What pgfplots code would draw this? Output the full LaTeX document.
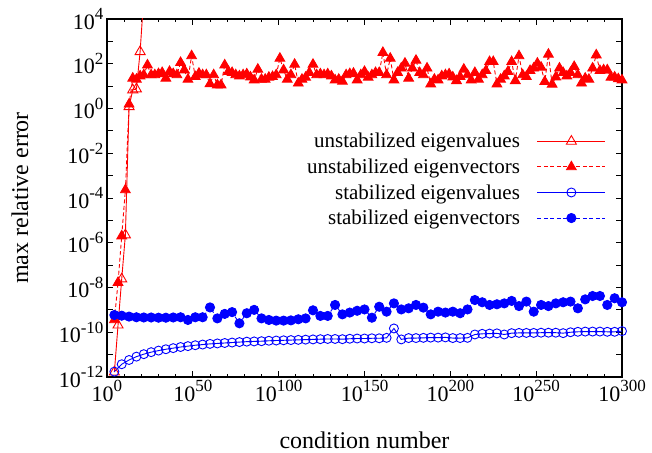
\documentclass[border=0pt]{standalone}
\usepackage{fontspec}
\setmainfont{Liberation Serif}
\usepackage{pgfplots}
\usepackage{pgfplotstable}
\pgfplotsset{compat=1.18}

% x = log10(condition number), y = log10(max relative error)
\pgfplotstableread{
x y
4.29 -11.78
6.43 -9.68
8.57 -7.62
10.71 -5.65
12.86 0.08
15.00 0.83
17.14 0.87
19.29 2.54
21.43 5.0
23.57 7.0
}\uval

\pgfplotstableread{
x y
4.29 -9.45
6.43 -7.78
8.57 -5.7
10.71 -3.64
12.86 0.19
15.00 1.35
17.14 1.3
19.29 1.45
21.43 1.5
23.57 1.94
25.71 1.5
27.86 1.5
30.00 1.55
32.14 1.6
34.29 1.35
36.43 1.65
38.57 1.55
40.71 1.5
42.86 2.05
45.00 1.72
47.14 1.3
49.29 2.35
51.43 1.42
53.57 1.57
55.71 1.5
57.86 1.5
60.00 1.1
62.14 1.5
64.29 1.05
66.43 1.05
68.57 1.94
70.71 1.65
72.86 1.6
75.00 1.5
77.14 1.45
79.29 1.5
81.43 1.54
83.57 1.4
85.71 1.27
87.86 1.75
90.00 1.3
92.14 1.3
94.29 1.39
96.43 1.42
98.57 1.5
100.71 2.24
102.86 1.72
105.00 1.3
107.14 1.5
109.29 1.97
111.43 1.13
113.57 1.3
115.71 1.39
117.86 1.6
120.00 1.97
122.14 1.5
124.29 1.54
126.43 1.5
128.57 1.54
130.71 1.45
132.86 1.27
135.00 1.3
137.14 1.21
139.29 1.5
141.43 1.55
143.57 1.57
145.71 1.27
147.86 1.5
150.00 1.65
152.14 1.39
154.29 1.5
156.43 1.6
158.57 1.6
160.71 2.5
162.86 1.5
165.00 2.24
167.14 1.27
169.29 1.6
171.43 1.8
173.57 2.02
175.71 1.35
177.86 1.8
180.00 2.15
182.14 1.6
184.29 1.5
186.43 1.8
188.57 1.09
190.71 1.3
192.86 1.27
195.00 1.45
197.14 1.5
199.29 1.54
201.43 1.4
203.57 1.24
205.71 1.42
207.86 1.75
210.00 1.5
212.14 1.27
214.29 1.6
216.43 1.3
218.57 1.5
220.71 1.69
222.86 2.09
225.00 2.09
227.14 1.09
229.29 1.3
231.43 1.45
233.57 1.65
235.71 2.09
237.86 1.24
240.00 2.35
242.14 1.5
244.29 1.42
246.43 1.69
248.57 1.8
250.71 2.02
252.86 1.84
255.00 1.2
257.14 2.42
259.29 1.08
261.43 1.4
263.57 1.8
265.71 1.6
267.86 1.45
270.00 1.6
272.14 1.87
274.29 1.5
276.43 1.13
278.57 1.35
280.71 1.3
282.86 1.8
285.00 2.39
287.14 1.69
289.29 1.72
291.43 1.72
293.57 1.39
295.71 1.4
297.86 1.32
300.00 1.27
}\uvec

\pgfplotstableread{
x sval svec
4.29 -11.76 -9.23
8.57 -11.43 -9.26
12.86 -11.24 -9.30
17.14 -11.09 -9.33
21.43 -10.98 -9.34
25.71 -10.89 -9.34
30.00 -10.82 -9.35
34.29 -10.76 -9.35
38.57 -10.71 -9.34
42.86 -10.66 -9.33
47.14 -10.62 -9.45
51.43 -10.58 -9.33
55.71 -10.55 -9.33
60.00 -10.52 -8.89
64.29 -10.50 -9.38
68.57 -10.48 -9.18
72.86 -10.46 -9.10
77.14 -10.44 -9.60
81.43 -10.42 -9.15
85.71 -10.41 -9.00
90.00 -10.40 -9.38
94.29 -10.38 -9.45
98.57 -10.37 -9.48
102.86 -10.36 -9.48
107.14 -10.35 -9.47
111.43 -10.34 -9.42
115.71 -10.33 -9.38
120.00 -10.32 -9.02
124.29 -10.31 -9.27
128.57 -10.30 -9.27
132.86 -10.30 -8.78
137.14 -10.31 -9.20
141.43 -10.29 -9.12
145.71 -10.28 -9.04
150.00 -10.28 -8.98
154.29 -10.27 -9.35
158.57 -10.27 -8.86
162.86 -10.25 -9.08
167.14 -9.83 -8.71
171.43 -10.32 -8.98
175.71 -10.26 -8.93
180.00 -10.26 -8.78
184.29 -10.25 -8.90
188.57 -10.24 -9.20
192.86 -10.24 -9.08
197.14 -10.23 -9.12
201.43 -10.26 -9.08
205.71 -10.26 -9.15
210.00 -10.25 -8.98
214.29 -10.10 -8.56
218.57 -10.07 -8.66
222.86 -10.06 -8.78
227.14 -10.05 -8.75
231.43 -10.10 -8.71
235.71 -10.04 -8.60
240.00 -10.03 -8.83
244.29 -10.03 -8.63
248.57 -10.03 -9.08
252.86 -10.02 -8.78
257.14 -10.02 -8.83
261.43 -10.02 -8.71
265.71 -10.04 -8.66
270.00 -10.00 -8.63
274.29 -9.98 -8.93
278.57 -9.97 -8.53
282.86 -9.97 -8.38
287.14 -9.97 -8.38
291.43 -9.98 -8.78
295.71 -9.98 -8.48
300.00 -9.95 -8.66
}\stab

\newcommand{\p}[1]{10\raisebox{0.42em}{\fontsize{17bp}{17bp}\selectfont #1}}

\begin{document}
\begin{tikzpicture}
\useasboundingbox (-107bp,-76bp) rectangle (545bp,377bp);
\begin{axis}[
  at={(0,0)}, anchor=south west,
  scale only axis, width=515bp, height=358bp,
  xmin=0, xmax=300, ymin=-12, ymax=4,
  xtick={0,50,...,300},
  xticklabels={\p{0},\p{50},\p{100},\p{150},\p{200},\p{250},\p{300}},
  minor xtick={0,10,...,300},
  ytick={-12,-11,...,4},
  yticklabels={\p{-12},,\p{-10},,\p{-8},,\p{-6},,\p{-4},,\p{-2},,\p{0},,\p{2},,\p{4}},
  tick align=inside,
  major tick length=6.5bp, minor tick length=3.5bp,
  every tick/.style={black, line width=0.8bp},
  axis line style={line width=1.1bp},
  font=\fontsize{21bp}{25bp}\selectfont,
  tick label style={font=\fontsize{22bp}{25bp}\selectfont},
  xlabel={condition number},
  ylabel={max relative error},
  label style={font=\fontsize{24bp}{28bp}\selectfont},
  xlabel style={at={(axis description cs:0.5,-0.176)}, anchor=center},
  ylabel style={at={(axis description cs:-0.169,0.5)}, anchor=center},
  legend plot pos=right,
  legend cell align=right,
  legend image code/.code={\draw[mark repeat=2,mark phase=2] plot coordinates {(0bp,0bp) (34bp,0bp) (68bp,0bp)};},
  legend style={draw=none, fill=none, at={(0.969,0.684)}, anchor=north east,
    inner sep=0pt, row sep=7.5bp, column sep=16bp,
    nodes={inner sep=1bp}},
]
\addplot[red, line width=0.9bp, mark=triangle, mark size=5.8bp, mark options={solid, line width=0.9bp}] table[x=x, y=y] {\uval};
\addlegendentry{unstabilized eigenvalues}
\addplot[red, line width=0.9bp, dash pattern=on 4bp off 2.5bp, mark=triangle*, mark size=5.6bp, mark options={solid}] table[x=x, y=y] {\uvec};
\addlegendentry{unstabilized eigenvectors}
\addplot[blue, line width=0.9bp, mark=o, mark size=4.5bp, mark options={solid, line width=0.9bp}] table[x=x, y=sval] {\stab};
\addlegendentry{stabilized eigenvalues}
\addplot[blue, line width=0.9bp, dash pattern=on 4bp off 2.5bp, mark=*, mark size=4.6bp, mark options={solid}] table[x=x, y=svec] {\stab};
\addlegendentry{stabilized eigenvectors}
\end{axis}
\end{tikzpicture}
\end{document}
